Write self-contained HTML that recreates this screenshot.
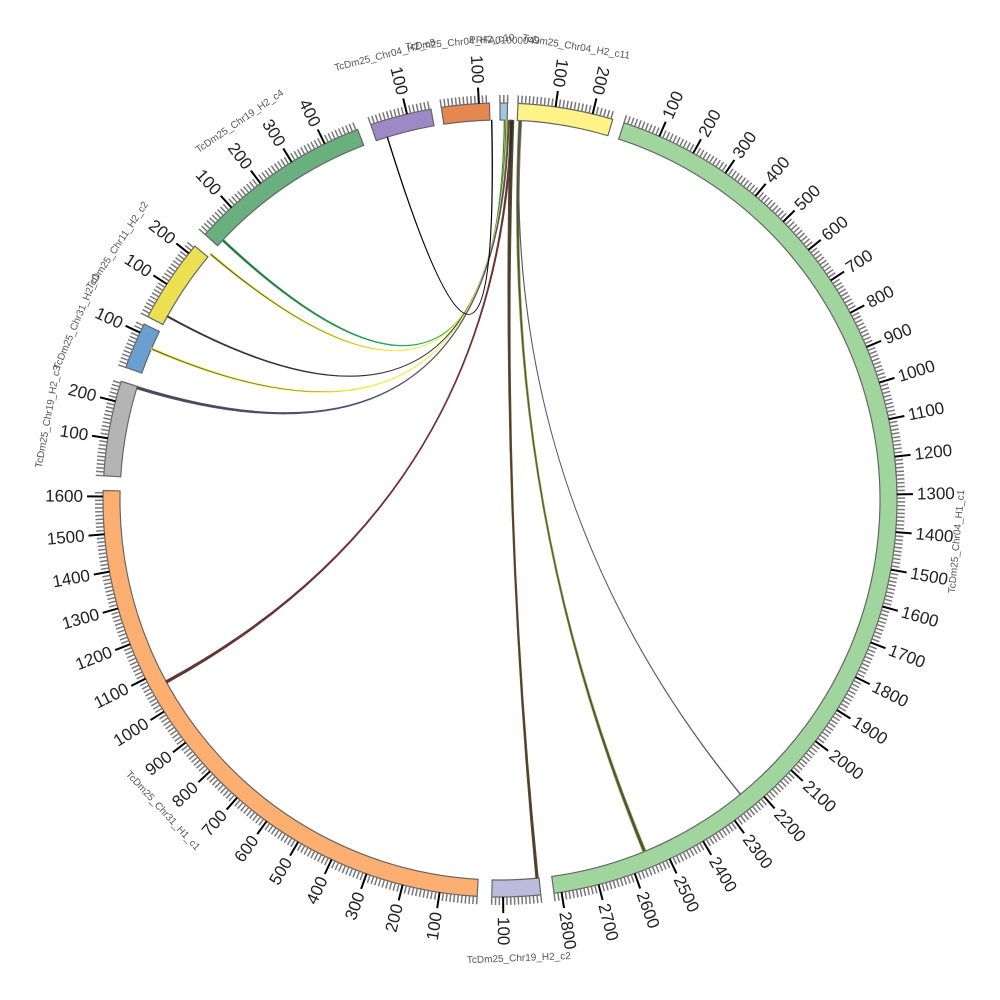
<!DOCTYPE html>
<html><head><meta charset="utf-8"><style>
html,body{margin:0;padding:0;background:#fff;}
svg{display:block;font-family:"Liberation Sans","DejaVu Sans",sans-serif;}
</style></head><body>
<svg id="s" width="1000" height="1000" viewBox="0 0 1000 1000"></svg>
<script>
var cx=500,cy=500,ri=380,ro=397;
var segs=[
 ["TcDm25_Chr04_H1_c1",18.2,2820,"#a1d59e",0.0546],
 ["TcDm25_Chr19_H2_c2",174.1,130,"#bcbbdc",0.0545],
 ["TcDm25_Chr31_H1_c1",183.3,1616,"#fdae71",0.0545],
 ["TcDm25_Chr19_H2_c3",273.5,255,"#b4b4b4",0.0545],
 ["TcDm25_Chr31_H2_c1",289.5,125,"#6a9fcf",0.0545],
 ["TcDm25_Chr11_H2_c2",297.5,225,"#ebe052",0.0545],
 ["TcDm25_Chr19_H2_c4",312,495,"#6aaf7e",0.0545],
 ["TcDm25_Chr04_H2_c8",341,165,"#9d89c3",0.0545],
 ["TcDm25_Chr04_H2_c10",351.5,128,"#e6874f",0.0545],
 ["PRFA01000049",0,20,"#9fc7df",0.0545],
 ["TcDm25_Chr04_H2_c11",2.6,255,"#fff387",0.0545]
];
function P(a,r){var t=a*Math.PI/180;return [cx+r*Math.sin(t),cy-r*Math.cos(t)];}
var h="";
segs.forEach(function(s){
 var k=s[4],a0=s[1],a1=s[1]+s[2]*k,lg=(a1-a0)>180?1:0;
 var p1=P(a0,ro),p2=P(a1,ro),p3=P(a1,ri),p4=P(a0,ri);
 h+='<path d="M'+p1+' A'+ro+','+ro+' 0 '+lg+' 1 '+p2+' L'+p3+' A'+ri+','+ri+' 0 '+lg+' 0 '+p4+'Z" fill="'+s[3]+'" stroke="#666" stroke-width="1.2"/>';
 for(var u=0;u<=s[2];u+=10){
  var a=a0+u*k,maj=(u%100==0&&u>0);
  var q1=P(a,ro),q2=P(a,maj?ro+16:ro+8);
  h+='<line x1="'+q1[0]+'" y1="'+q1[1]+'" x2="'+q2[0]+'" y2="'+q2[1]+'" stroke="'+(maj?'#000':'#777')+'" stroke-width="'+(maj?2:1.5)+'"/>';
  if(maj){
   var na=((a%360)+360)%360,q=P(a,ro+20),rot,anc;
   if(na>=18&&na<=182){rot=na-90;anc="start";}else{rot=na-270;anc="end";}
   h+='<text x="'+q[0]+'" y="'+q[1]+'" font-size="17" fill="#222" text-anchor="'+anc+'" dominant-baseline="central" transform="rotate('+rot+' '+q[0]+' '+q[1]+')">'+u+'</text>';
  }
 }
 var am=(a0+a1)/2,na=((am%360)+360)%360,q=P(am,ro+62),rot;
 if(na<=90.5||na>=269.5)rot=na;else rot=na-180;
 h+='<text x="'+q[0]+'" y="'+q[1]+'" font-size="10" fill="#555" text-anchor="middle" dominant-baseline="central" transform="rotate('+rot+' '+q[0]+' '+q[1]+')">'+s[0]+'</text>';
});
var links=[
 [0.6,0.8,313.3,313.0,"#2a4a2a","#2a5"],
 [0.8,0.95,310.5,310.2,"#445522","#ee4"],
 [0.9,1.05,299,298.8,"#222","#333"],
 [1.0,1.15,293.6,293.3,"#555522","#ee4"],
 [1.2,1.4,287.4,287.0,"#333344","#557"],
 [1.6,1.9,241.6,241.2,"#442222","#733"],
 [1.5,2.1,174.6,174.2,"#223322","#742"],
 [2.8,3.3,157.9,157.4,"#334422","#994"],
 [3.0,3.1,140.8,140.7,"#333355","#557"],
 [342.8,342.7,358.8,358.7,"#000","#000"]
];
links.forEach(function(l){
 var a=P(l[0],ri),b=P(l[1],ri),c=P(l[2],ri),d=P(l[3],ri);
 h+='<path d="M'+a+' Q'+cx+','+cy+' '+c+' A'+ri+','+ri+' 0 0 1 '+d+' Q'+cx+','+cy+' '+b+' Z" fill="'+l[4]+'" stroke="'+l[5]+'" stroke-width="0.7" fill-opacity="0.9"/>';
});
document.getElementById("s").innerHTML=h;
</script>
</body></html>
